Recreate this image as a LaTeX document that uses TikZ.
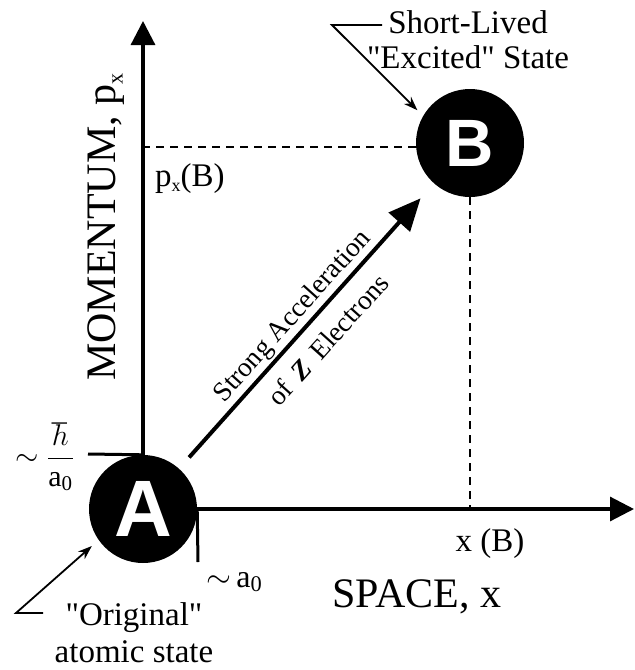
\RequirePackage{fix-cm}
\documentclass[tikz,border=0pt]{standalone}
\usepackage{fontspec}
\setmainfont{Liberation Serif}
\newfontfamily\lsans{Liberation Sans}
\usetikzlibrary{arrows.meta}
\newcommand{\smallsub}[2]{\raisebox{-0.18em}{\fontsize{#1}{#1}\selectfont #2}}
\begin{document}
\begin{tikzpicture}[x=1pt,y=-1pt,
  axis/.style={line width=3.2pt,-{Triangle[length=24pt,width=24pt]}},
  tickline/.style={line width=3pt},
  guide/.style={line width=1.5pt,dash pattern=on 8pt off 6pt},
  state/.style={circle,fill=black,text=white,minimum size=108pt,inner sep=0pt},
  bigarrow/.style={line width=4pt,-{Triangle[length=32pt,width=28pt]}},
  pointer/.style={line width=1.8pt,-{Stealth[length=14pt,width=10pt]}},
  lbl/.style={font=\fontsize{33}{35}\selectfont,inner sep=0pt},
  axlbl/.style={font=\fontsize{42}{44}\selectfont,inner sep=0pt},
  diag/.style={font=\fontsize{27.5}{29}\selectfont,inner sep=0pt,rotate=48.1,anchor=base}
]
\useasboundingbox (0,0) rectangle (635,670);
\coordinate (O) at (143,509);
\coordinate (ytip) at (143,21);
\coordinate (xtip) at (634,509);
\coordinate (htick) at (88,454);
\coordinate (atick) at (198,562);
% axes
\draw[axis] (O) -- (ytip);
\draw[axis] (O) -- (xtip);
% states
\node[state,font=\lsans\bfseries\fontsize{80}{80}\selectfont] (A) at (O) {A};
\node[state,font=\lsans\bfseries\fontsize{67}{67}\selectfont] (B) at (470,143) {B};
% ticks
\draw[tickline] (A.north) -- (htick);
\draw[tickline] (A.east) -- (atick);
% guides
\draw[guide] (B.184) -- (B.184 -| O);
\draw[guide] (B.south) -- (B.south |- O);
% acceleration arrow
\draw[bigarrow,shorten <=15pt,shorten >=20pt] (A) -- (B);
\node[diag] (acc1) at (298,321) {Strong Acceleration};
\node[diag] (acc2) at (335,346) {of \,\textbf{\textit{Z}}\, Electrons};
% axis labels
\node[axlbl,rotate=90,anchor=base] (ylab) at (115,227) {MOMENTUM, p\smallsub{22}{x}};
\node[axlbl,anchor=base] (xlab) at (417,607) {SPACE, x};
\node[lbl,anchor=base] (xB) at (490,551) {x (B)};
\node[lbl,anchor=base west] (pB) at (155,186) {p\smallsub{18}{x}(B)};
\node[lbl,anchor=east,font=\fontsize{30}{32}\selectfont] (hb) at (74,457) {$\displaystyle\sim\frac{\hbar}{\mathrm{a}_{\mathrm{0}}}$};
\node[lbl,anchor=base west,font=\fontsize{32}{34}\selectfont] (a0) at (206,587) {${\sim}\,\mathrm{a}_{\mathrm{0}}$};
% state labels
\node[lbl,align=center,anchor=north] (SL) at (468,10.5) {Short-Lived\\\textquotedbl Excited\textquotedbl{} State};
\node[lbl,align=center,anchor=north,font=\fontsize{33}{37}\selectfont] (OR) at (134,602.5) {\textquotedbl Original\textquotedbl\\atomic state};
\coordinate (sl1) at (382,25);
\coordinate (sl2) at (332,25);
\coordinate (or1) at (43,613);
\coordinate (or2) at (16,613);
\draw[pointer,shorten >=8pt] (sl1) -- (sl2) -- (B.150);
\draw[pointer,shorten >=9pt] (or1) -- (or2) -- (A.215);
\end{tikzpicture}
\end{document}
